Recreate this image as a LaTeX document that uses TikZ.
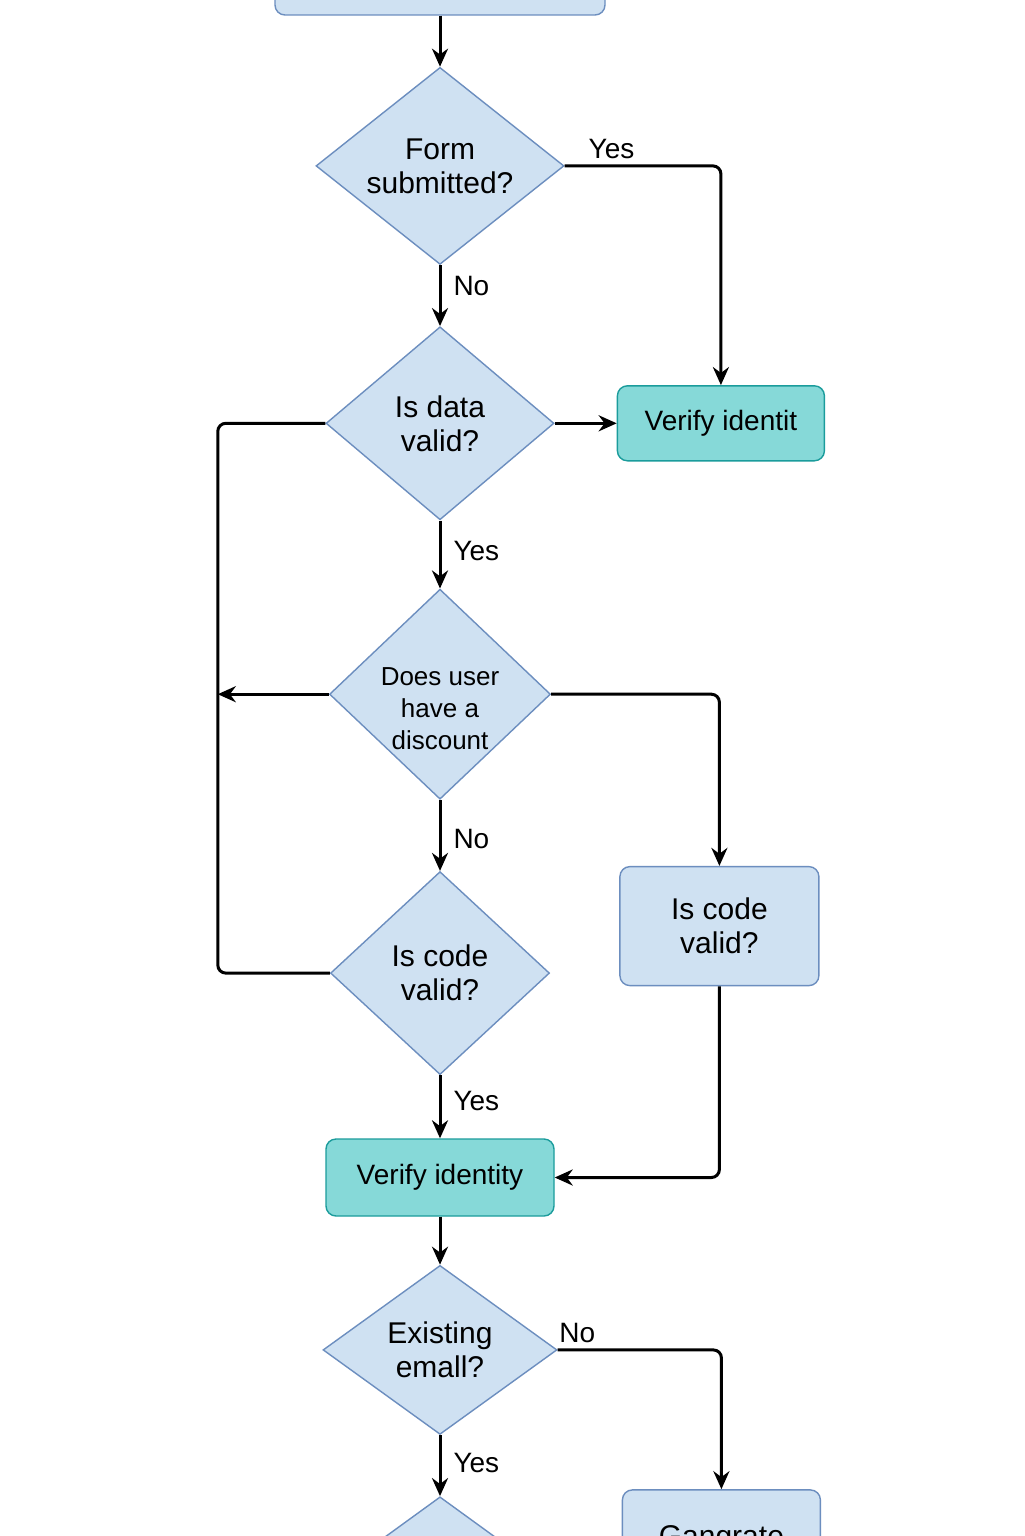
\documentclass[tikz,border=0pt]{standalone}
\usepackage{fontspec}
\setmainfont{Liberation Sans}
\usetikzlibrary{shapes.geometric, arrows.meta, positioning}

\definecolor{boxblue}{HTML}{CFE1F2}
\definecolor{edgeblue}{HTML}{6C8EBF}
\definecolor{boxteal}{HTML}{86D9D8}
\definecolor{edgeteal}{HTML}{1B9C9C}

\begin{document}
\begin{tikzpicture}[x=0.5pt, y=-0.5pt, line width=1.5pt,
    decision/.style={draw=edgeblue, fill=boxblue, line width=0.7pt, diamond,
        inner sep=0pt, align=center, font=\fontsize{15}{17}\selectfont},
    process/.style={draw=edgeblue, fill=boxblue, line width=0.7pt,
        rounded corners=5pt, align=center, font=\fontsize{15}{17}\selectfont},
    verify/.style={draw=edgeteal, fill=boxteal, line width=0.7pt,
        rounded corners=5pt, font=\fontsize{14}{16}\selectfont},
    lbl/.style={font=\fontsize{14}{16}\selectfont, inner sep=3pt},
    arr/.style={-{Stealth[length=9pt,width=8pt]}, rounded corners=4pt}]

\useasboundingbox (0,0) rectangle (1024,1536);
\fill[white] (0,0) rectangle (1024,1536);
\clip (0,0) rectangle (1024,1536);

% Start block (cut by the top edge)
\node[process,
    minimum width=165pt,
    minimum height=30pt] (start) at (440,-15) {};

% Main column
\node[decision,
    below=25.5pt of start,
    minimum width=124pt, minimum height=98.5pt, aspect=1.26] (form) {Form\\submitted?};

\node[decision,
    below=30.5pt of form,
    minimum width=114pt, minimum height=96.5pt, aspect=1.18] (valid) {Is data\\valid?};

\node[decision,
    below=34pt of valid,
    minimum width=110.5pt, minimum height=105pt, aspect=1.05,
    label={[align=center, yshift=-7pt, font=\fontsize{13}{16}\selectfont]center:Does user\\have a\\discount}] (discount) {};

\node[decision,
    below=35.5pt of discount,
    minimum width=109.5pt, minimum height=101.5pt, aspect=1.08] (code) {Is code\\valid?};

\node[verify,
    below=31.5pt of code,
    minimum width=114pt, minimum height=38.5pt] (ident) {Verify identity};

\node[decision,
    below=24pt of ident,
    minimum width=117pt, minimum height=84.5pt, aspect=1.38] (email) {Existing\\emall?};

\node[decision,
    below=30.5pt of email,
    minimum width=117pt, minimum height=85pt, aspect=1.38] (next) {};

% Side column
\node[verify,
    right=31pt of valid,
    minimum width=103.5pt, minimum height=37.5pt] (identA) {Verify identit};

\node[process,
    right=34.5pt of code, yshift=23.5pt,
    minimum width=99.5pt, minimum height=59.5pt] (codebox) {Is code\\valid?};

\node[process,
    right=32pt of email, yshift=-94.5pt,
    minimum width=99pt, minimum height=49pt] (generate) {Gangrate};

\coordinate (lft) at ([xshift=-55.5pt]discount.west);

% Arrows
\draw[arr] (start) -- (form);
\draw[arr] (form.east) -| (identA.north) node[lbl, pos=0.15, above] {Yes};
\draw[arr] (form) -- (valid) node[lbl, pos=0.35, right=3pt] {No};
\draw[arr] (valid) -- (identA);
\draw[arr] (valid) -- (discount) node[lbl, pos=0.45, right=3pt] {Yes};
\draw[rounded corners=4pt] (valid.west) -| (lft) |- (code.west);
\draw[arr] (discount.west) -- (lft);
\draw[arr] (discount.east) -| (codebox.north);
\draw[arr] (discount) -- (code) node[lbl, pos=0.55, right=3pt] {No};
\draw[arr] (code) -- (ident) node[lbl, pos=0.4, right=3pt] {Yes};
\draw[arr] (codebox.south) |- (ident.east);
\draw[arr] (ident) -- (email);
\draw[arr] (email.east) -| (generate.north) node[lbl, pos=0.06, above] {No};
\draw[arr] (email) -- (next) node[lbl, pos=0.45, right=3pt] {Yes};

\end{tikzpicture}
\end{document}
